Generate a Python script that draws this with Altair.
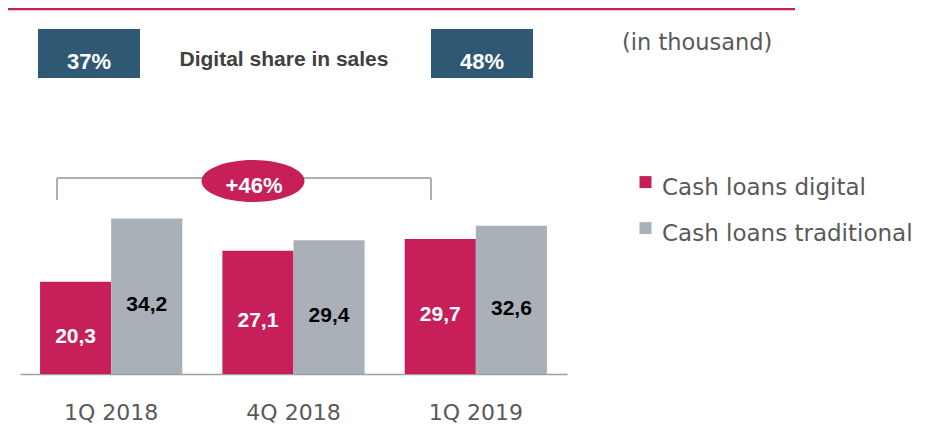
import altair as alt
import pandas as pd

# ---- data ----
quarters = ["1Q 2018", "4Q 2018", "1Q 2019"]
series_names = ["Cash loans digital", "Cash loans traditional"]
digital = [20.3, 27.1, 29.7]
traditional = [34.2, 29.4, 32.6]
share_labels = ["37%", "48%"]
share_title = "Digital share in sales"
growth_label = "+46%"
unit_note = "(in thousand)"

CRIMSON = "#C61F5A"
GRAY = "#A9B0B8"
BLUE = "#2E5874"
TEXT_GRAY = "#595959"

rows = []
for q, d, t in zip(quarters, digital, traditional):
    rows.append({"quarter": q, "series": series_names[0], "value": d})
    rows.append({"quarter": q, "series": series_names[1], "value": t})
df = pd.DataFrame(rows)
df["label"] = df["value"].map(lambda v: f"{v:.1f}".replace(".", ","))
df["mid"] = df["value"] / 2

one = pd.DataFrame({"k": [0]})

x_enc = alt.X(
    "quarter:N",
    sort=quarters,
    scale=alt.Scale(range=[12, 559], paddingInner=0.22, paddingOuter=0.11),
    axis=alt.Axis(
        title=None, ticks=False, tickSize=0, labelAngle=0,
        labelFont="DejaVu Sans", labelFontSize=22, labelColor=TEXT_GRAY,
        labelPadding=28, domainColor="#A0A0A0", domainWidth=1.5, grid=False,
    ),
)
xo_enc = alt.XOffset("series:N", sort=series_names,
                     scale=alt.Scale(paddingInner=0, paddingOuter=0))
y_scale = alt.Scale(domain=[0, 80.5], nice=False, zero=True)

SQUARE_UP = "M -1 -1.9 L 1 -1.9 L 1 0.1 L -1 0.1 Z"

bars = alt.Chart(df).mark_bar().encode(
    x=x_enc,
    xOffset=xo_enc,
    y=alt.Y("value:Q", scale=y_scale, axis=None),
    color=alt.Color(
        "series:N", sort=series_names,
        scale=alt.Scale(domain=series_names, range=[CRIMSON, GRAY]),
        legend=alt.Legend(
            title=None, orient="none", legendX=626, legendY=168,
            direction="vertical", symbolType=SQUARE_UP, symbolSize=144,
            symbolStrokeWidth=0, symbolOpacity=1,
            labelFont="DejaVu Sans", labelFontSize=23, labelColor=TEXT_GRAY,
            rowPadding=22, labelOffset=5, padding=0, labelLimit=400,
        ),
    ),
)

def value_labels(name, color):
    return alt.Chart(df).transform_filter(alt.datum.series == name).mark_text(
        font="Liberation Sans", fontWeight="bold", fontSize=21, color=color,
        baseline="alphabetic", dy=15,
    ).encode(
        x=x_enc, xOffset=xo_enc,
        y=alt.Y("mid:Q", scale=y_scale, axis=None),
        text="label:N",
    )

lab_dig = value_labels(series_names[0], "white")
lab_trad = value_labels(series_names[1], "black")

base = alt.Chart(one)

top_line = base.mark_rule(color=CRIMSON, strokeWidth=2.5).encode(
    x=alt.value(0), x2=alt.value(787), y=alt.value(1))

box1 = base.mark_rect(color=BLUE).encode(
    x=alt.value(30), x2=alt.value(132), y=alt.value(21), y2=alt.value(70))
box2 = base.mark_rect(color=BLUE).encode(
    x=alt.value(423), x2=alt.value(525), y=alt.value(21), y2=alt.value(70))

t37 = base.mark_text(font="Liberation Sans", fontWeight="bold", fontSize=22,
                     color="white", align="center", baseline="alphabetic").encode(
    x=alt.value(81), y=alt.value(61), text=alt.value(share_labels[0]))
t48 = base.mark_text(font="Liberation Sans", fontWeight="bold", fontSize=22,
                     color="white", align="center", baseline="alphabetic").encode(
    x=alt.value(474), y=alt.value(61), text=alt.value(share_labels[1]))

title_text = base.mark_text(font="Liberation Sans", fontWeight="bold", fontSize=21,
                            color="#404040", align="center", baseline="alphabetic").encode(
    x=alt.value(276), y=alt.value(58), text=alt.value(share_title))

note = base.mark_text(font="DejaVu Sans", fontSize=22.5, color=TEXT_GRAY,
                      align="left", baseline="alphabetic").encode(
    x=alt.value(614), y=alt.value(42), text=alt.value(unit_note))

bracket_h = base.mark_rule(color=GRAY, strokeWidth=2).encode(
    x=alt.value(49), x2=alt.value(423), y=alt.value(170))
bracket_l = base.mark_rule(color=GRAY, strokeWidth=2).encode(
    x=alt.value(49), y=alt.value(170), y2=alt.value(192))
bracket_r = base.mark_rule(color=GRAY, strokeWidth=2).encode(
    x=alt.value(423), y=alt.value(170), y2=alt.value(192))

ry, k = 0.408, 0.5523
ELLIPSE = (
    f"M -1 0 C -1 {-ry*k:.4f} {-k:.4f} {-ry} 0 {-ry} "
    f"C {k:.4f} {-ry} 1 {-ry*k:.4f} 1 0 "
    f"C 1 {ry*k:.4f} {k:.4f} {ry} 0 {ry} "
    f"C {-k:.4f} {ry} -1 {ry*k:.4f} -1 0 Z"
)
ellipse = base.mark_point(shape=ELLIPSE, size=103 * 103, filled=True,
                          color=CRIMSON, opacity=1, strokeWidth=0).encode(
    x=alt.value(245), y=alt.value(173))
growth = base.mark_text(font="Liberation Sans", fontWeight="bold", fontSize=22,
                        color="white", align="center", baseline="alphabetic").encode(
    x=alt.value(246), y=alt.value(185), text=alt.value(growth_label))

chart = alt.layer(
    top_line, box1, box2, t37, t48, title_text, note,
    bracket_h, bracket_l, bracket_r, ellipse, growth,
    bars, lab_dig, lab_trad,
).properties(
    width=910, height=366,
    autosize=alt.AutoSizeParams(type="none"),
    padding={"left": 0, "top": 0, "right": 0, "bottom": 51},
    background="white",
).configure_view(stroke=None)

chart.save("out.html", embed_options={"renderer": "svg", "actions": False})
